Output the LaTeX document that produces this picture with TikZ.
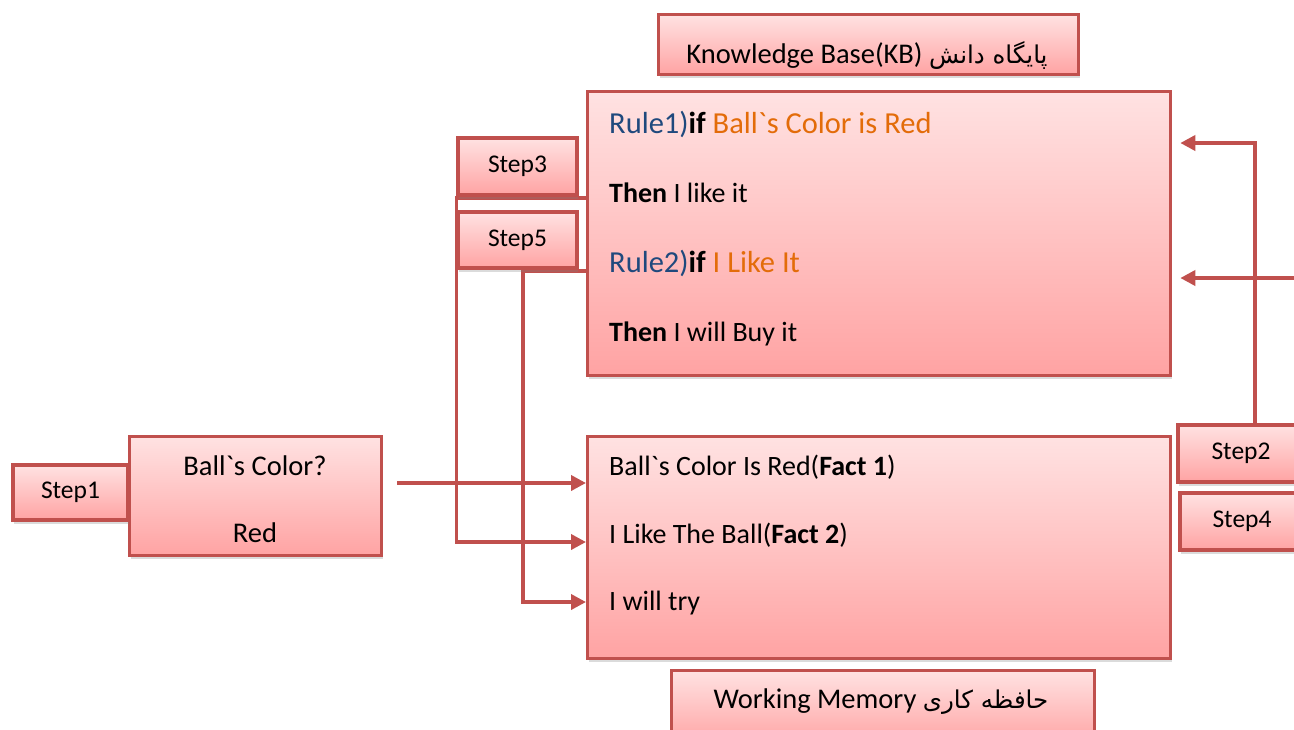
\documentclass[tikz,border=0pt]{standalone}
\usepackage{fontspec}
\newfontfamily\calfont{Carlito}
\newfontfamily\arabicfont[Script=Arabic,Scale=0.86]{DejaVu Sans}
\TeXXeTstate=1
\usetikzlibrary{arrows.meta,shadows,calc}

\definecolor{edgered}{HTML}{C0504D}
\definecolor{filltop}{HTML}{FFE2E2}
\definecolor{fillbot}{HTML}{FFA3A3}
\definecolor{ruleblue}{HTML}{1F497D}
\definecolor{condorange}{HTML}{E36C09}

\pgfdeclarelayer{background}
\pgfsetlayers{background,main}

\tikzset{
  box/.style={draw=edgered, line width=3.3pt, top color=filltop, bottom color=fillbot,
    anchor=north west, inner sep=0pt,
    drop shadow={opacity=0.28, shadow xshift=1pt, shadow yshift=-3.5pt}},
  stepbox/.style={box, anchor=center, font=\fontsize{25.5}{28}\selectfont},
  wire/.style={draw=edgered, line width=3.6pt},
  arrowwire/.style={wire, -{Triangle[length=15pt,width=15pt]}},
  txt/.style={anchor=base west, inner sep=0pt, font=\fontsize{28}{32}\selectfont},
  ruletxt/.style={txt, font=\fontsize{30.5}{34}\selectfont},
  ctxt/.style={anchor=base, inner sep=0pt, font=\fontsize{28.5}{32}\selectfont},
}

\begin{document}
\calfont
\begin{tikzpicture}[x=1pt, y=-1pt]
  \useasboundingbox (0,0) rectangle (1294,729);

  % knowledge base
  \node[box, minimum width=420pt, minimum height=60pt] (kbtitle) at (657,13) {};
  \node[ctxt] (kbtitletext) at (867,63)
    {Knowledge Base(KB) {\arabicfont\beginR پایگاه دانش\endR}};
  \node[box, minimum width=583pt, minimum height=284pt] (kb) at (586,90) {};
  \node[ruletxt] (rule1) at (609,133)
    {\textcolor{ruleblue}{Rule1)}\textbf{if} \textcolor{condorange}{Ball`s Color is Red}};
  \node[txt] (then1) at (609,202) {\textbf{Then} I like it};
  \node[ruletxt] (rule2) at (609,272)
    {\textcolor{ruleblue}{Rule2)}\textbf{if} \textcolor{condorange}{I Like It}};
  \node[txt] (then2) at (609,341) {\textbf{Then} I will Buy it};

  % working memory
  \node[box, minimum width=583pt, minimum height=222pt] (wm) at (586,435) {};
  \node[txt] (fact1) at (609,475) {Ball`s Color Is Red(\textbf{Fact 1})};
  \node[txt] (fact2) at (609,543) {I Like The Ball(\textbf{Fact 2})};
  \node[txt] (fact3) at (609,610) {I will try};
  \node[box, minimum width=423pt, minimum height=75pt] (wmtitle) at (670,669) {};
  \node[ctxt] (wmtitletext) at (881,708)
    {Working Memory {\arabicfont\beginR حافظه کاری\endR}};

  % question and answer
  \node[box, minimum width=252pt, minimum height=119pt] (ask) at (128,435) {};
  \node[ctxt] (asktext) at (255,475) {Ball`s Color?};
  \node[ctxt] (answertext) at (255,542) {Red};

  % step labels
  \node[stepbox, minimum width=115pt, minimum height=55pt] (step1) at (70.5,492.5) {Step1};
  \node[stepbox, minimum width=119pt, minimum height=57pt] (step3) at (517.5,166.5) {Step3};
  \node[stepbox, minimum width=119pt, minimum height=56pt] (step5) at (517.5,240) {Step5};
  \node[stepbox, minimum width=126pt, minimum height=57pt] (step2) at (1241,453.5) {Step2};
  \node[stepbox, minimum width=124pt, minimum height=57pt] (step4) at (1242,521.5) {Step4};

  % routing levels
  \coordinate (r1y) at (0,143);
  \coordinate (r2y) at (0,278);
  \coordinate (f1y) at (0,483);
  \coordinate (f2y) at (0,542);
  \coordinate (f3y) at (0,602);
  \coordinate (s3y) at ([yshift=-1.2pt]step3.south);
  \coordinate (s5y) at ([yshift=-1.2pt]step5.south);
  \coordinate (s5x) at (523,0);
  \coordinate (s2x) at (1255,0);
  \coordinate (rightend) at (1300,278);

  \begin{pgfonlayer}{background}
    \fill[white] (0,0) rectangle (1294,729);
    \draw[arrowwire, shorten <=14pt] (ask.east |- f1y) -- (wm.west |- f1y);
    \draw[arrowwire] (kb.west |- s3y) -- (step3.south west |- s3y)
      -- (step3.south west |- f2y) -- (wm.west |- f2y);
    \draw[arrowwire] (kb.west |- s5y) -- (s5x |- s5y)
      -- (s5x |- f3y) -- (wm.west |- f3y);
    \draw[arrowwire, shorten >=8pt] (s2x |- step2.north) -- (s2x |- r1y) -- (kb.east |- r1y);
    \draw[arrowwire, shorten >=8pt] (rightend) -- (kb.east |- r2y);
  \end{pgfonlayer}
\end{tikzpicture}
\end{document}
